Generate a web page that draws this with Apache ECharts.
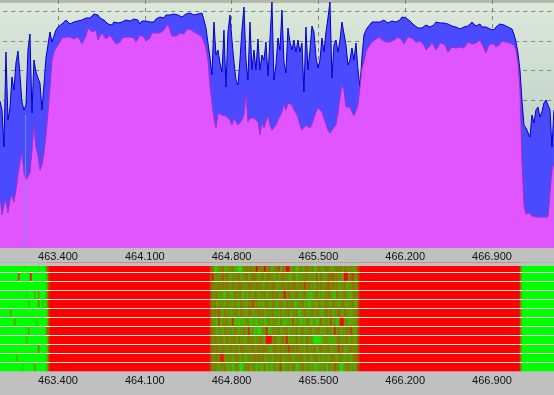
<!DOCTYPE html>
<html>
<head>
<meta charset="utf-8">
<script src="https://cdn.jsdelivr.net/npm/echarts@6/dist/echarts.min.js"></script>
<style>
  html, body { margin: 0; padding: 0; background: #c0c0c0; }
  #chart { width: 554px; height: 395px; }
</style>
</head>
<body>
<div id="chart"></div>
<script>
// frequency axis, MHz
var freqStart = 462.932
var freqStep = 0.016129
var freqMin = 462.7
var freqMax = 467.6
var freqTick = 0.7

// peak trace, one sample per bin
var maxLevel = [
  147,138,101,196,128,140,171,158,185,197,173,146,138,143,198,214,135,188,176,170,
  165,138,163,190,188,216,206,212,218,221,222,224,226,228,226,224,225,226,227,227,
  227,228,228,230,231,230,232,234,236,233,230,229,228,227,224,224,223,226,224,225,
  225,226,226,228,229,227,225,229,231,228,224,227,228,227,227,226,225,226,229,230,
  231,231,230,233,235,233,231,234,234,233,232,231,233,234,235,235,234,233,233,234,
  234,235,228,220,205,191,173,226,193,198,185,176,218,161,216,233,208,186,168,163,
  188,218,241,188,168,226,178,198,178,209,178,193,188,206,172,170,246,168,183,210,
  198,238,186,175,220,206,198,208,196,208,196,205,156,221,178,198,222,216,191,180,
  188,210,196,216,230,246,170,203,208,196,208,226,226,203,183,188,200,188,205,178,
  161,191,213,218,221,223,226,228,226,226,226,227,228,226,225,226,227,227,226,226,
  228,231,230,230,229,227,225,223,221,220,220,220,221,223,222,221,221,223,226,226,
  225,225,225,224,224,223,222,221,221,220,219,220,221,222,222,224,226,227,222,224,
  224,221,219,221,222,219,217,218,221,223,224,225,223,222,221,221,219,214,206,195,
  178,148,123,120,121,111,133,125,138,141,131,136,145,148,150,138,101,138
]

// floor trace, same bins
var minLevel = [
  51,33,43,48,35,48,53,46,58,73,86,95,75,68,70,75,98,123,101,93,
  78,83,95,113,135,160,188,196,200,203,206,210,210,211,211,211,209,209,210,211,
  208,204,203,212,220,221,216,217,218,208,212,215,212,209,211,213,210,207,204,202,
  206,210,211,211,211,211,211,210,206,205,213,215,211,207,207,210,215,215,215,215,
  215,216,218,221,224,218,212,210,212,214,215,216,214,218,220,219,217,216,215,214,
  213,211,206,200,188,163,145,130,120,135,134,133,133,132,131,128,123,130,130,123,
  121,128,133,155,126,130,128,130,131,126,113,126,120,120,133,123,118,120,123,128,
  130,136,144,138,145,144,143,138,135,131,123,118,120,123,121,120,124,130,136,140,
  141,136,130,124,118,115,118,120,123,135,150,163,158,141,141,141,136,132,130,143,
  161,180,186,196,200,203,206,208,209,210,211,208,206,206,206,206,206,208,210,211,
  210,208,204,206,211,212,210,208,206,206,207,207,203,198,196,202,206,204,198,201,
  205,206,204,201,196,198,201,201,200,199,201,201,200,202,206,205,204,205,205,207,
  208,204,200,195,201,204,205,204,201,201,204,207,208,206,205,205,204,203,198,185,
  158,88,43,34,32,35,32,31,31,31,31,31,31,31,31,31,78,85
]

var markerFreq = 463.138
var markerLevel = 133

// occupancy per row, 0 = free (green), 9 = busy (red)
var heatLeft = [
  '0000000000 0000000001 00057',
  '0000000006 0000080000 00027',
  '0000000000 0000000000 00026',
  '0000000000 0001000303 00037',
  '0000000000 0000200004 02037',
  '0000030000 0000000000 00016',
  '0000000300 0000000020 00016',
  '0000000000 0000300000 00056',
  '0000000000 0002000000 00016',
  '0000000000 0000000004 00016',
  '0000000020 0000000000 00026',
  '0000000000 0100000300 00026'
]
var heatBusy = '99999999999999999999 99999999999999999999 99999999999999999999 99999999999999999999'
var heatMid = [
  '6522445334 4533114454 5449454945 4354735499 3442353454 4523543454 3345453544 44357',
  '6844446454 3444534453 4554345345 4435345443 3452434453 4436354345 5645443994 57447',
  '6544545454 4544554445 5445453454 4553445445 4554454745 4435454456 4545344534 45447',
  '6445343244 3354452434 4354344534 4545344945 4345434533 2345343445 4325434543 34547',
  '6453444354 4354354435 4745343454 3543454354 4523445342 3443543454 3544345434 45337',
  '6454643544 3445354435 5344545344 4534353445 3445234543 4535433454 5344643544 34457',
  '6442734453 3823233344 2332434235 3444253234 3634423345 2342363443 7342399443 33447',
  '6543443544 4354344538 3423124482 3444534453 4445345344 5344534354 4384534454 74347',
  '6454454354 4453544345 4534454399 9454345483 4345344354 4311123443 3334544453 44347',
  '6545445444 5445355444 4544545544 3454454547 4545444354 4453454445 3444745344 54447',
  '6445488444 4345435334 4454545344 4354453444 5344454345 3445343443 4543454344 34557',
  '6454344533 4235312445 3442433524 3343473344 3542345344 3423343524 4364412445 34357'
]
var heatFree = '40000000000000000'

function traceData(levels) {
  return levels.map(function(v, i) {
    return [freqStart + i * freqStep, v]
  })
}

var heatData = []
var binNames = []
heatMid.forEach(function(mid, row) {
  var line = (heatLeft[row] + heatBusy + mid + heatBusy + heatFree).replace(/ /g, '')
  for (var col = 0; col < line.length; col++) {
    heatData.push([col, row, Number(line[col])])
    if (row === 0) binNames.push(String(col))
  }
})
var rowNames = heatMid.map(function(m, i) { return String(i) })

var labelStyle = {
  show: true,
  color: '#111',
  fontFamily: 'Liberation Sans',
  fontSize: 11,
  margin: 3,
  formatter: function(v) { return v.toFixed(3) }
}
var gridLine = {
  show: true,
  showMinLine: false,
  showMaxLine: false,
  lineStyle: { color: '#7c867c', type: [4, 4], width: 1 }
}

var chart = echarts.init(document.getElementById('chart'))
chart.setOption({
  animation: false,
  backgroundColor: '#c0c0c0',
  graphic: [{
    type: 'rect',
    z: 100,
    shape: { x: 0, y: 263, width: 554, height: 3 },
    style: { fill: '#c0c0c0' }
  }],
  grid: [
    {
      left: -28.8, top: 0, width: 607.6, height: 248,
      outerBoundsMode: 'none',
      show: true, borderWidth: 0,
      backgroundColor: new echarts.graphic.LinearGradient(0, 0, 0, 1, [
        { offset: 0, color: '#b4b8ac' },
        { offset: 0.01, color: '#b4b8ac' },
        { offset: 0.012, color: '#dbe8da' },
        { offset: 0.5, color: '#c4d4cb' },
        { offset: 1, color: '#b8c8c4' }
      ])
    },
    { left: 0, top: 263, width: 554, height: 108, outerBoundsMode: 'none' },
    { left: -28.8, top: 371, width: 607.6, height: 1, outerBoundsMode: 'none' }
  ],
  xAxis: [
    {
      type: 'value', gridIndex: 0, min: freqMin, max: freqMax, interval: freqTick,
      axisLine: { show: false }, axisTick: { show: false },
      axisLabel: labelStyle, splitLine: gridLine
    },
    {
      type: 'category', gridIndex: 1, data: binNames, show: false
    },
    {
      type: 'value', gridIndex: 2, min: freqMin, max: freqMax, interval: freqTick,
      axisLine: { show: false }, axisTick: { show: false },
      axisLabel: labelStyle, splitLine: { show: false }
    }
  ],
  yAxis: [
    {
      type: 'value', gridIndex: 0, min: 0, max: 248, interval: 29.6,
      axisLine: { show: false }, axisTick: { show: false }, axisLabel: { show: false },
      splitLine: gridLine
    },
    {
      type: 'category', gridIndex: 1, data: rowNames, inverse: true, z: 10,
      axisLine: { show: false }, axisTick: { show: false }, axisLabel: { show: false },
      splitLine: {
        show: true, interval: 0, showMinLine: false, showMaxLine: false,
        lineStyle: { color: '#f0e8e8', width: 1 }
      }
    },
    {
      type: 'value', gridIndex: 2, min: 0, max: 1, show: false
    }
  ],
  visualMap: {
    show: false, seriesIndex: 2, dimension: 2, min: 0, max: 9,
    inRange: { color: ['#00ff00', '#ff0000'] }
  },
  series: [
    {
      type: 'line', xAxisIndex: 0, yAxisIndex: 0, z: 2,
      data: traceData(maxLevel),
      symbol: 'none',
      lineStyle: { color: '#0000c8', width: 1 },
      areaStyle: { color: '#4a4aff', opacity: 1 }
    },
    {
      type: 'line', xAxisIndex: 0, yAxisIndex: 0, z: 3,
      data: traceData(minLevel),
      symbol: 'none',
      lineStyle: { color: '#a030c8', width: 1 },
      areaStyle: { color: '#e055ff', opacity: 1 },
      markLine: {
        silent: true, symbol: 'none', label: { show: false },
        lineStyle: { color: 'rgba(110,150,210,0.8)', type: 'solid', width: 1 },
        data: [[{ coord: [markerFreq, markerLevel] }, { coord: [markerFreq, 0] }]]
      }
    },
    {
      type: 'heatmap', xAxisIndex: 1, yAxisIndex: 1, z: 2,
      data: heatData, progressive: 0
    }
  ]
})
</script>
</body>
</html>
